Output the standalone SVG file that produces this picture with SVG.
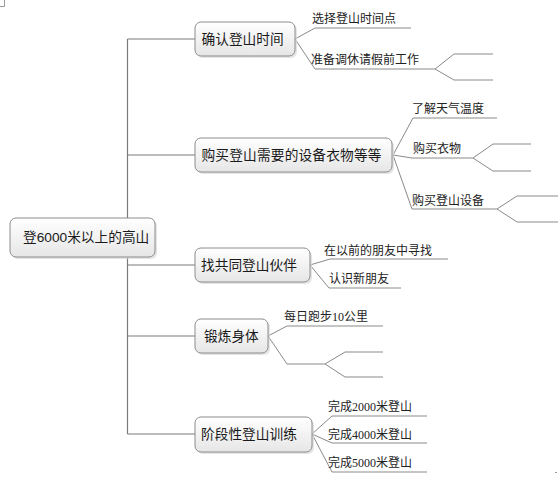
<svg xmlns="http://www.w3.org/2000/svg" width="558" height="477" viewBox="0 0 558 477">
<defs>
<linearGradient id="g" x1="0" y1="0" x2="0" y2="1">
<stop offset="0" stop-color="#ffffff"/>
<stop offset="1" stop-color="#e6e6e6"/>
</linearGradient>
</defs>
<style>
.box{fill:url(#g);stroke:#8c8c8c;stroke-width:1}
.sh{fill:#d8d8d8;opacity:0.7}
.nt{font-family:"Liberation Sans","Noto Sans CJK SC",sans-serif;font-size:13.7px;fill:#1a1a1a}
.ct{font-family:"Liberation Serif","Noto Sans CJK SC",serif;font-size:12px;fill:#222}
.trunk{fill:none;stroke:#7a7a7a;stroke-width:1.2}
.br{fill:none;stroke:#8a8a8a;stroke-width:1}
.mk{fill:none;stroke:#999;stroke-width:1}
</style>
<rect width="558" height="477" fill="#ffffff"/>
<path class="mk" d="M4.5 0V6.5H0"/>
<path class="mk" d="M555 472.5H557"/>
<g id="connectors">
<path class="trunk" d="M127.5 39V434M127.5 39H195M127.5 155H195M127.5 265H195M127.5 336H195M127.5 434H195"/>
<path class="br" d="M295 39L315 28H411M295 39L315 69H435M435 69L454 54H493M435 69L454 80H493"/>
<path class="br" d="M393 155L413 118H497M393 155L412 158H473M473 158L493 144H531M473 158L493 171H531M393 155L412 209H497M497 209L517 196H558M497 209L517 222H558"/>
<path class="br" d="M310 265L330 259H448M310 265L329 288H401"/>
<path class="br" d="M268 336L287 326H383M268 336L287 364H325M325 364L345 352H383M325 364L345 377H383"/>
<path class="br" d="M312 434L332 416H427M312 434L332 443H427M312 434L332 472H427"/>
</g>
<g id="root">
<rect class="sh" x="12" y="220" width="145" height="39" rx="6"/>
<rect class="box" x="10" y="218" width="145" height="39" rx="6"/>
<text class="nt" x="23" y="242">登6000米以上的高山</text>
</g>
<g id="n1">
<rect class="sh" x="197" y="24" width="100" height="34" rx="6"/>
<rect class="box" x="195" y="22" width="100" height="34" rx="6"/>
<text class="nt" x="201.5" y="44">确认登山时间</text>
</g>
<g id="n2">
<rect class="sh" x="197" y="140" width="197" height="34" rx="6"/>
<rect class="box" x="195" y="138" width="197" height="34" rx="6"/>
<text class="nt" x="201.5" y="160" textLength="180">购买登山需要的设备衣物等等</text>
</g>
<g id="n3">
<rect class="sh" x="197" y="250" width="115" height="34" rx="6"/>
<rect class="box" x="195" y="248" width="115" height="34" rx="6"/>
<text class="nt" x="201" y="270">找共同登山伙伴</text>
</g>
<g id="n4">
<rect class="sh" x="197" y="321" width="73" height="34" rx="6"/>
<rect class="box" x="195" y="319" width="73" height="34" rx="6"/>
<text class="nt" x="204" y="341">锻炼身体</text>
</g>
<g id="n5">
<rect class="sh" x="197" y="419" width="117" height="35" rx="6"/>
<rect class="box" x="195" y="417" width="117" height="35" rx="6"/>
<text class="nt" x="201" y="439">阶段性登山训练</text>
</g>
<g id="labels">
<text class="ct" x="312" y="23">选择登山时间点</text>
<text class="ct" x="311" y="64">准备调休请假前工作</text>
<text class="ct" x="412" y="113">了解天气温度</text>
<text class="ct" x="413" y="153">购买衣物</text>
<text class="ct" x="412" y="205">购买登山设备</text>
<text class="ct" x="324" y="255">在以前的朋友中寻找</text>
<text class="ct" x="329" y="283">认识新朋友</text>
<text class="ct" x="284" y="321">每日跑步10公里</text>
<text class="ct" x="328" y="411">完成2000米登山</text>
<text class="ct" x="328" y="439">完成4000米登山</text>
<text class="ct" x="328" y="467">完成5000米登山</text>
</g>
</svg>
